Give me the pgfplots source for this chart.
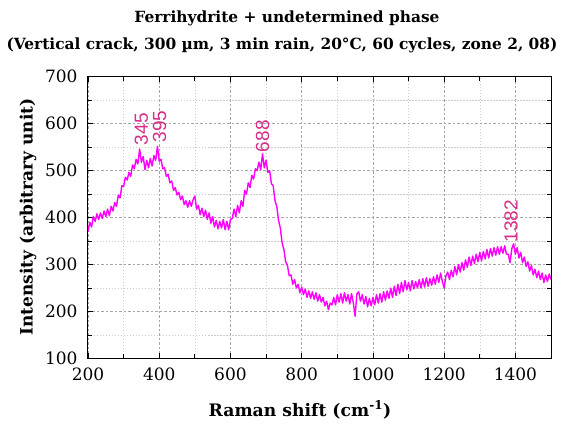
\documentclass[border=0pt]{standalone}
\usepackage{fontspec}
\setmainfont{DejaVu Serif}
\newfontfamily\annfont{Liberation Sans}
\usepackage{pgfplots}
\pgfplotsset{compat=1.18}
\definecolor{curve}{RGB}{255,0,255}
\definecolor{ann}{RGB}{214,45,135}
\begin{document}
\begin{tikzpicture}
\begin{axis}[
  at={(0,0)}, anchor=south west,
  scale only axis, width=463pt, height=281.8pt,
  xmin=200, xmax=1500, ymin=100, ymax=700,
  xtick={200,400,...,1400}, ytick={100,200,...,700},
  minor x tick num=1, minor y tick num=1,
  tick align=inside, major tick length=5pt, minor tick length=4pt,
  grid=both,
  major grid style={gray!70, dash pattern=on 2.5pt off 2pt, line width=0.6pt},
  minor grid style={gray!40, dash pattern=on 1.5pt off 1.5pt, line width=0.5pt},
  axis line style={line width=1pt},
  every tick/.style={black, line width=0.8pt},
  /pgf/number format/assume math mode=true,
  /pgf/number format/1000 sep={},
  tick label style={font=\fontsize{17}{20}\selectfont},
  xticklabel style={yshift=-6pt},
  yticklabel style={xshift=-7pt},
]
\addplot[curve, line width=1.4pt, line join=round] coordinates {
(200,370)(205,390)(210,380)(215,402)(220,392)(225,408)(230,396)(235,410)(240,398)(245,414)
(250,402)(255,418)(260,404)(265,424)(270,414)(275,432)(280,424)(285,448)(290,442)(295,468)
(300,466)(305,486)(310,480)(315,496)(320,488)(325,512)(330,504)(335,524)(340,514)(345,546)
(350,518)(355,530)(360,502)(365,522)(370,506)(375,526)(380,510)(385,532)(390,522)(395,552)
(400,520)(405,524)(410,504)(415,506)(420,488)(425,492)(430,474)(435,478)(440,458)(445,464)
(450,448)(455,454)(460,438)(465,446)(470,428)(475,436)(480,422)(485,436)(490,424)(495,438)
(500,446)(505,418)(510,426)(515,406)(520,420)(525,402)(530,416)(535,396)(540,410)(545,388)
(550,402)(555,380)(560,394)(565,376)(570,392)(575,378)(580,396)(585,374)(590,392)(595,374)
(600,396)(605,398)(610,418)(615,402)(620,426)(625,410)(630,436)(635,424)(640,458)(645,450)
(650,474)(655,464)(660,490)(665,482)(670,504)(675,500)(680,518)(685,502)(690,536)(695,506)
(700,522)(705,496)(710,500)(715,472)(720,468)(725,436)(730,424)(735,394)(740,378)(745,346)
(750,332)(755,306)(760,298)(765,276)(770,278)(775,258)(780,268)(785,250)(790,258)(795,240)
(800,252)(805,236)(810,248)(815,230)(820,244)(825,228)(830,242)(835,226)(840,240)(845,222)
(850,236)(855,220)(860,230)(865,212)(870,222)(875,204)(880,218)(885,214)(890,230)(895,214)
(900,236)(905,220)(910,238)(915,218)(920,240)(925,222)(930,236)(935,216)(940,238)(945,218)
(950,190)(955,238)(960,242)(965,222)(970,236)(975,216)(980,232)(985,210)(990,228)(995,212)
(1000,230)(1005,214)(1010,236)(1015,218)(1020,238)(1025,220)(1030,242)(1035,224)(1040,244)(1045,228)
(1050,250)(1055,230)(1060,254)(1065,234)(1070,258)(1075,238)(1080,262)(1085,242)(1090,266)(1095,246)
(1100,262)(1105,244)(1110,266)(1115,248)(1120,264)(1125,250)(1130,268)(1135,250)(1140,270)(1145,252)
(1150,272)(1155,254)(1160,270)(1165,256)(1170,274)(1175,258)(1180,278)(1185,262)(1190,282)(1195,264)
(1200,250)(1205,276)(1210,284)(1215,268)(1220,288)(1225,274)(1230,296)(1235,278)(1240,300)(1245,284)
(1250,304)(1255,288)(1260,310)(1265,294)(1270,316)(1275,298)(1280,318)(1285,302)(1290,322)(1295,306)
(1300,326)(1305,308)(1310,328)(1315,312)(1320,332)(1325,314)(1330,334)(1335,318)(1340,336)(1345,320)
(1350,338)(1355,322)(1360,338)(1365,324)(1370,340)(1375,322)(1380,322)(1385,304)(1390,334)(1395,344)
(1400,322)(1405,336)(1410,314)(1415,326)(1420,304)(1425,316)(1430,296)(1435,306)(1440,286)(1445,298)
(1450,278)(1455,290)(1460,272)(1465,286)(1470,268)(1475,282)(1480,262)(1485,278)(1490,264)(1495,280)
(1500,268)
};
\node[rotate=90, anchor=west, text=ann, inner sep=0pt, font=\annfont\fontsize{19}{19}\selectfont] at (axis cs:350,554) {345};
\node[rotate=90, anchor=west, text=ann, inner sep=0pt, font=\annfont\fontsize{19}{19}\selectfont] at (axis cs:401,560) {395};
\node[rotate=90, anchor=west, text=ann, inner sep=0pt, font=\annfont\fontsize{19}{19}\selectfont] at (axis cs:690,539) {688};
\node[rotate=90, anchor=west, text=ann, inner sep=0pt, font=\annfont\fontsize{19}{19}\selectfont] at (axis cs:1388,347) {1382};
\end{axis}
\node[font=\bfseries\fontsize{15.4}{17}\selectfont] at (199pt,340.5pt) {Ferrihydrite + undetermined phase};
\node[font=\bfseries\fontsize{15.4}{17}\selectfont] at (194pt,313.5pt) {(Vertical crack, 300 µm, 3 min rain, 20°C, 60 cycles, zone 2, 08)};
\node[font=\bfseries\fontsize{17.2}{19}\selectfont] at (212pt,-51.5pt) {Raman shift (cm\textsuperscript{-1})};
\node[rotate=90, font=\bfseries\fontsize{17}{19}\selectfont] at (-60pt,141.5pt) {Intensity (arbitrary unit)};
\pgfresetboundingbox
\useasboundingbox (-88pt,-68.5pt) rectangle (478pt,358.5pt);
\end{tikzpicture}
\end{document}
